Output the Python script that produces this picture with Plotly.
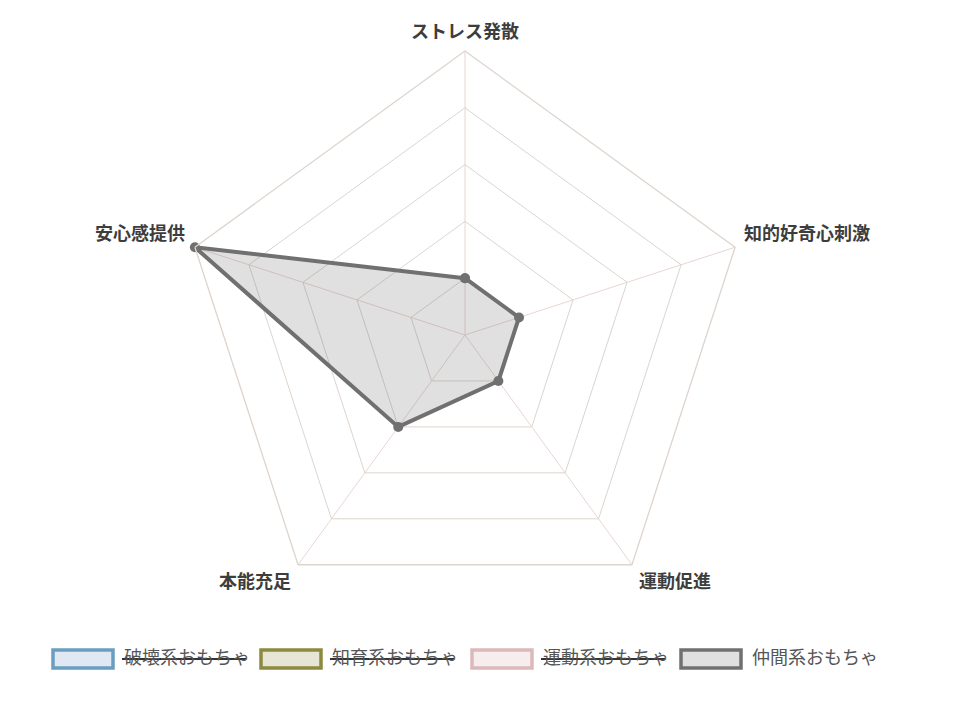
import plotly.graph_objects as go

# Axes of the radar
categories = ['ストレス発散', '知的好奇心刺激', '運動促進', '本能充足', '安心感提供']

# Only the visible dataset (the others are toggled off in the legend)
nakama_values = [1, 1, 1, 2, 5]

# Legend entries
legend_names = ['破壊系おもちゃ', '知育系おもちゃ', '運動系おもちゃ', '仲間系おもちゃ']
legend_hidden = [True, True, True, False]
legend_borders = ['#6a9ec0', '#8c8a3e', '#dcb9b9', '#707070']
legend_fills = ['#e0e9f3', '#e6e5d6', '#f6eeee', '#e0e0e0']

# page has an 8px body margin, so work in page pixels minus 8
OFF = 8
W, H = 964 - 2 * OFF, 705 - 2 * OFF
FONT = 'Noto Sans CJK JP'
GRID = '#ddd4ce'
SPOKE = '#e8d6d2'


def px_x(x):
    return (x - OFF) / W


def px_y(y):
    return 1 - (y - OFF) / H


fig = go.Figure()

fig.add_trace(go.Scatterpolar(
    r=nakama_values + nakama_values[:1],
    theta=categories + categories[:1],
    mode='lines+markers',
    fill='toself',
    fillcolor='rgba(112,112,112,0.22)',
    line=dict(color='#707070', width=4),
    marker=dict(color='#707070', size=10),
    name='仲間系おもちゃ',
    showlegend=False,
))

cx, cy, R = 465, 335, 284
fig.update_layout(
    width=W, height=H,
    margin=dict(l=0, r=0, t=0, b=0),
    paper_bgcolor='white',
    font=dict(family=FONT),
    polar=dict(
        domain=dict(x=[px_x(cx - R), px_x(cx + R)], y=[px_y(cy + R), px_y(cy - R)]),
        bgcolor='white',
        gridshape='linear',
        radialaxis=dict(range=[0, 5], dtick=1, showticklabels=False, ticks='',
                        showline=False, gridcolor=GRID, gridwidth=1.3),
        angularaxis=dict(rotation=90, direction='clockwise', gridcolor=SPOKE, gridwidth=1.3,
                         linecolor=GRID, linewidth=1.3, ticks='', showticklabels=False),
    ),
)

# point labels, placed like Chart.js does
label_pos = [(465, 30, 'center'), (742, 232, 'left'), (637, 580, 'left'),
             (293, 580, 'right'), (187, 232, 'right')]
for cat, (lx, ly, anchor) in zip(categories, label_pos):
    fig.add_annotation(xref='paper', yref='paper', x=px_x(lx), y=px_y(ly),
                       text=cat, showarrow=False, xanchor=anchor, yanchor='middle',
                       font=dict(size=18, color='#3d3d3d', family=FONT, weight='bold'))

# Chart.js-style legend drawn under the chart
box_x = [53, 261, 472, 681]
for i, name in enumerate(legend_names):
    x0 = box_x[i]
    fig.add_shape(type='rect', xref='paper', yref='paper',
                  x0=px_x(x0), x1=px_x(x0 + 60), y0=px_y(668), y1=px_y(650),
                  line=dict(color=legend_borders[i], width=3.5), fillcolor=legend_fills[i])
    fig.add_annotation(xref='paper', yref='paper', x=px_x(x0 + 69), y=px_y(656),
                       text=name, showarrow=False, xanchor='left', yanchor='middle',
                       font=dict(size=18, color='#555555', family=FONT))
    if legend_hidden[i]:
        # strike-through for toggled-off datasets
        fig.add_shape(type='line', xref='paper', yref='paper',
                      x0=px_x(x0 + 69), x1=px_x(x0 + 193), y0=px_y(659), y1=px_y(659),
                      line=dict(color='#333333', width=2))

fig.write_html("out.html")
